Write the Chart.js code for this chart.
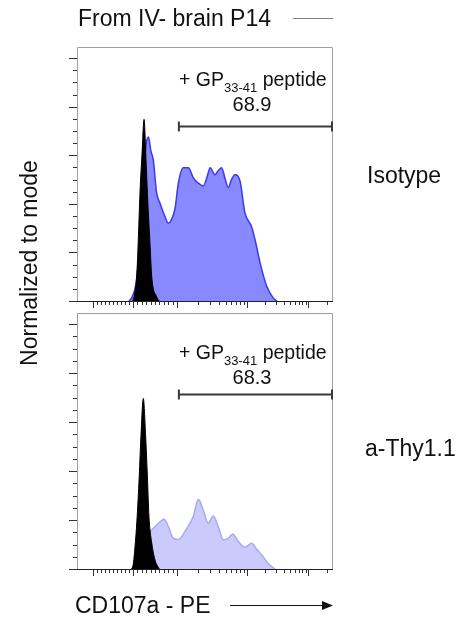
<!DOCTYPE html>
<html><head><meta charset="utf-8">
<script src="https://cdn.jsdelivr.net/npm/chart.js@4/dist/chart.umd.min.js"></script>
<style>
html,body{margin:0;padding:0;background:#fff;width:468px;height:621px;overflow:hidden;}
canvas{position:absolute;left:0;}
#c1{top:0;}
#c2{top:310px;}
svg{position:absolute;left:0;top:0;pointer-events:none;}
text{font-family:"Liberation Sans",Arial,Helvetica,sans-serif;fill:#111;}
</style></head><body>
<canvas id="c1" width="468" height="310"></canvas>
<canvas id="c2" width="468" height="311"></canvas>
<svg width="468" height="621" id="ann">
  <text x="78" y="26" font-size="23">From IV- brain P14</text>
  <line x1="293" y1="18.5" x2="333" y2="18.5" stroke="#808080" stroke-width="1"/>
  <text id="lab0" x="367" y="183" font-size="23"></text>
  <text id="lab1" x="365" y="456" font-size="23"></text>
  <text transform="translate(37,263) rotate(-90)" text-anchor="middle" font-size="23">Normalized to mode</text>
  <text x="75" y="613" font-size="23">CD107a - PE</text>
  <line x1="230" y1="605.5" x2="324" y2="605.5" stroke="#111" stroke-width="1"/>
  <polygon points="322,601 333,605.5 322,610" fill="#111"/>
  <text x="179" y="86" font-size="19.5">+ GP<tspan font-size="13" dy="6">33-41</tspan><tspan dy="-6"> peptide</tspan></text>
  <text id="pct0" x="252" y="110.5" font-size="20" text-anchor="middle"></text>
  <text x="179" y="359" font-size="19.5">+ GP<tspan font-size="13" dy="6">33-41</tspan><tspan dy="-6"> peptide</tspan></text>
  <text id="pct1" x="252" y="384" font-size="20" text-anchor="middle"></text>
</svg>
<script>
// ---- data (x in display units of the biexponential CD107a axis, 0..100; y = % of mode) ----
const panelLabels = ["Isotype", "a-Thy1.1"];
const gatePercent = ["68.9", "68.3"];
const gateStart = 39.8;
const gateEnd = 100;
const gateLevel = [72.5, 72.0];

const isoBlackX = [21.5, 22.3, 23.3, 23.9, 24.6, 25.4, 26.2, 26.9, 27.5, 28.5, 29.2, 31.1, 32.4];
const isoBlackY = [0, 2.2, 10.4, 24.2, 44.8, 61, 75.2, 60, 44.8, 24.2, 10.4, 2.2, 0];

const isoBlueX = [19.9, 21.5, 23.1, 24.6, 26.2, 27.0, 27.9, 28.9, 29.8, 31.1, 32.4, 34.4, 35.7, 36.7, 38.3, 39.6, 41.5, 43.5, 45.4, 47.3, 49.3, 50.8, 52.0, 53.9, 55.1, 56.5, 57.8, 59.1, 60.2, 61.7, 63.7, 65.6, 68.2, 69.9, 71.5, 74.1, 76.7, 78.5];
const isoBlueY = [0, 2, 8, 25, 55, 65, 67.9, 62, 58.5, 44.9, 40.8, 35.1, 32.4, 33.5, 38.5, 49, 55.3, 55.3, 51.2, 49, 47.8, 51.5, 55.3, 52.4, 54, 55.3, 51, 47.1, 50, 52.4, 49.7, 36.7, 31.0, 24, 16.2, 6.5, 1.6, 0];

const thyBlackX = [20.7, 21.9, 22.7, 23.4, 24.3, 25.0, 25.9, 26.8, 27.5, 28.1, 29.2, 30.5, 32.4];
const thyBlackY = [0, 2, 10, 20, 38.1, 55, 70.1, 55, 38.1, 22, 11.0, 4, 0];

const thyBlueX = [21.9, 23.4, 25.0, 26.6, 28.1, 29.2, 31.8, 34.0, 35.7, 37.6, 39.6, 42.9, 45.4, 47.4, 49.3, 51.3, 53.2, 55.2, 57.2, 59.1, 60.8, 63.0, 65.6, 68.2, 70.2, 72.2, 74.7, 77.7];
const thyBlueY = [0, 3, 8, 12, 15, 16.3, 19.1, 20.7, 17.7, 13.0, 12.5, 17.0, 21.8, 28.9, 24.5, 19.1, 22.1, 17.7, 12.3, 13.0, 14.7, 11.6, 9.3, 10.9, 8.5, 6.1, 2.7, 0];

// axis ticks: display positions of -10^3, 0, 10^3, 10^4, 10^5
const xMajorTicks = [6.1, 21.9, 39.1, 66.4, 90.4];
const yMajorTicks = [0, 20, 40, 60, 80, 100];
const yMinorTicks = [5,10,15,25,30,35,45,50,55,65,70,75,85,90,95,105];

// minor x ticks derived from the decade positions (linear around zero, log above 10^3)
const xMinorTicks = [];
for (let k = 1; k <= 9; k++) {
  xMinorTicks.push(xMajorTicks[0] + (xMajorTicks[1]-xMajorTicks[0]) * k / 10);
  xMinorTicks.push(xMajorTicks[1] + (xMajorTicks[2]-xMajorTicks[1]) * k / 10);
}
for (let k = 2; k <= 9; k++) {
  xMinorTicks.push(xMajorTicks[2] + (xMajorTicks[3]-xMajorTicks[2]) * Math.log10(k));
  xMinorTicks.push(xMajorTicks[3] + (xMajorTicks[4]-xMajorTicks[3]) * Math.log10(k));
}
xMinorTicks.push(xMajorTicks[4] + (xMajorTicks[4]-xMajorTicks[3]) * Math.log10(2));

function pts(xs, ys) { return xs.map((x, i) => ({x: x, y: ys[i]})); }

document.getElementById('lab0').textContent = panelLabels[0];
document.getElementById('lab1').textContent = panelLabels[1];
document.getElementById('pct0').textContent = gatePercent[0];
document.getElementById('pct1').textContent = gatePercent[1];

const flowAxes = {
  id: 'flowAxes',
  afterDatasetsDraw(chart, args, opts) {
    const {ctx, chartArea: a, scales: {x, y}} = chart;
    ctx.save();
    // frame
    ctx.lineWidth = 1;
    ctx.strokeStyle = '#a0a0a0';
    ctx.beginPath();
    ctx.moveTo(a.left + 0.5, a.bottom); ctx.lineTo(a.left + 0.5, a.top + 0.5);
    ctx.lineTo(a.right - 0.5, a.top + 0.5); ctx.lineTo(a.right - 0.5, a.bottom);
    ctx.stroke();
    ctx.strokeStyle = '#222';
    ctx.beginPath();
    ctx.moveTo(a.left, a.bottom - 0.5); ctx.lineTo(a.right, a.bottom - 0.5);
    ctx.stroke();
    // y ticks
    ctx.strokeStyle = '#333';
    ctx.beginPath();
    yMajorTicks.forEach(v => { const p = Math.round(y.getPixelForValue(v)) - 0.5; ctx.moveTo(a.left - 8, p); ctx.lineTo(a.left, p); });
    yMinorTicks.forEach(v => { const p = Math.round(y.getPixelForValue(v)) - 0.5; if (p > a.top) { ctx.moveTo(a.left - 4, p); ctx.lineTo(a.left, p); } });
    // x ticks
    xMajorTicks.forEach(v => { const p = Math.round(x.getPixelForValue(v)) + 0.5; ctx.moveTo(p, a.bottom); ctx.lineTo(p, a.bottom + 6); });
    xMinorTicks.forEach(v => { const p = Math.round(x.getPixelForValue(v)) + 0.5; if (p < a.right) { ctx.moveTo(p, a.bottom); ctx.lineTo(p, a.bottom + 3); } });
    ctx.stroke();
    // gate bar
    const gy = Math.round(y.getPixelForValue(opts.gate)) + 0.5;
    const gx1 = x.getPixelForValue(gateStart), gx2 = x.getPixelForValue(gateEnd) - 1;
    ctx.strokeStyle = '#3a3a3a';
    ctx.lineWidth = 2;
    ctx.beginPath();
    ctx.moveTo(gx1, gy); ctx.lineTo(gx2, gy);
    ctx.moveTo(gx1, gy - 5); ctx.lineTo(gx1, gy + 5);
    ctx.moveTo(gx2, gy - 5); ctx.lineTo(gx2, gy + 5);
    ctx.stroke();
    ctx.restore();
  }
};

function makeChart(id, blue, black, fillColor, lineColor, gate, padding) {
  return new Chart(document.getElementById(id), {
    type: 'line',
    data: { datasets: [
      { data: black, order: 0, fill: 'origin', backgroundColor: '#000', borderColor: '#000', borderWidth: 1, pointRadius: 0, cubicInterpolationMode: 'monotone' },
      { data: blue, order: 1, fill: 'origin', backgroundColor: fillColor, borderColor: lineColor, borderWidth: 1.5, pointRadius: 0, cubicInterpolationMode: 'monotone' }
    ]},
    options: {
      responsive: false, animation: false, devicePixelRatio: 1,
      layout: { padding: padding },
      plugins: { legend: { display: false }, tooltip: { enabled: false }, flowAxes: { gate: gate } },
      scales: {
        x: { type: 'linear', min: 0, max: 100, display: false },
        y: { type: 'linear', min: 0, max: 105, display: false }
      }
    },
    plugins: [flowAxes]
  });
}

makeChart('c1', pts(isoBlueX, isoBlueY), pts(isoBlackX, isoBlackY), '#8888ff', '#3a3aee', gateLevel[0], {left: 77, right: 135, top: 47, bottom: 8});
makeChart('c2', pts(thyBlueX, thyBlueY), pts(thyBlackX, thyBlackY), '#cacafc', '#a8a8f4', gateLevel[1], {left: 77, right: 135, top: 3, bottom: 51});
</script>
</body></html>
